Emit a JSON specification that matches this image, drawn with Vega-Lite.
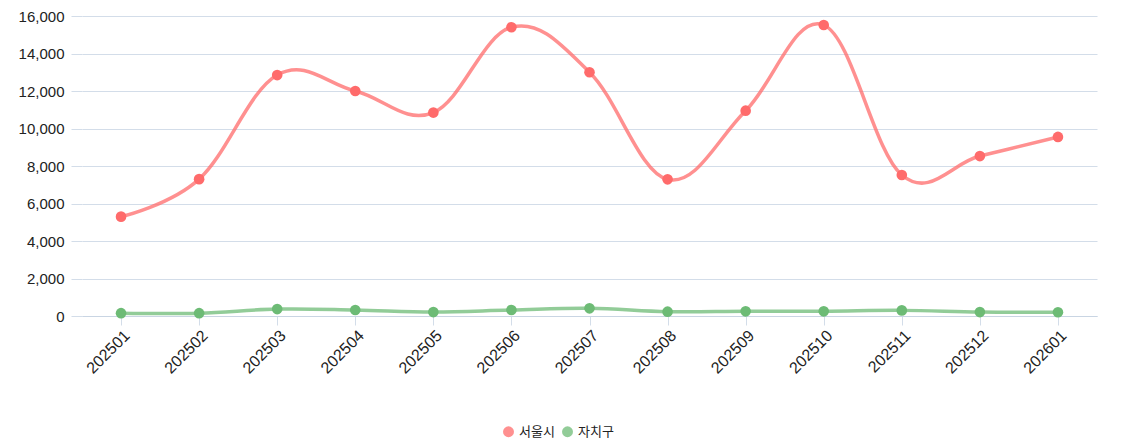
{
  "$schema": "https://vega.github.io/schema/vega-lite/v6.json",
  "width": 1015,
  "height": 300,
  "autosize": {"type": "none"},
  "padding": {"left": 82, "top": 16, "right": 24, "bottom": 125},
  "background": "white",
  "config": {
    "view": {"stroke": null},
    "font": "Liberation Sans",
    "axis": {
      "labelFont": "Liberation Sans",
      "labelFontSize": 14,
      "labelColor": "#222222",
      "gridColor": "#d3dde9",
      "tickColor": "#d3dde9",
      "domainColor": "#c9d5e3",
      "title": null
    }
  },
  "data": {
    "values": [
      {"month": "202501", "series": "서울시", "value": 5300},
      {"month": "202502", "series": "서울시", "value": 7300},
      {"month": "202503", "series": "서울시", "value": 12850},
      {"month": "202504", "series": "서울시", "value": 12000},
      {"month": "202505", "series": "서울시", "value": 10850},
      {"month": "202506", "series": "서울시", "value": 15400},
      {"month": "202507", "series": "서울시", "value": 13000},
      {"month": "202508", "series": "서울시", "value": 7290},
      {"month": "202509", "series": "서울시", "value": 10950},
      {"month": "202510", "series": "서울시", "value": 15520},
      {"month": "202511", "series": "서울시", "value": 7520},
      {"month": "202512", "series": "서울시", "value": 8530},
      {"month": "202601", "series": "서울시", "value": 9550},
      {"month": "202501", "series": "자치구", "value": 150},
      {"month": "202502", "series": "자치구", "value": 150},
      {"month": "202503", "series": "자치구", "value": 370},
      {"month": "202504", "series": "자치구", "value": 320},
      {"month": "202505", "series": "자치구", "value": 210},
      {"month": "202506", "series": "자치구", "value": 320},
      {"month": "202507", "series": "자치구", "value": 410},
      {"month": "202508", "series": "자치구", "value": 230},
      {"month": "202509", "series": "자치구", "value": 250},
      {"month": "202510", "series": "자치구", "value": 250},
      {"month": "202511", "series": "자치구", "value": 300},
      {"month": "202512", "series": "자치구", "value": 210},
      {"month": "202601", "series": "자치구", "value": 200}
    ]
  },
  "encoding": {
    "x": {
      "field": "month",
      "type": "ordinal",
      "scale": {"type": "point", "padding": 0.5},
      "axis": {
        "labelAngle": -45,
        "labelAlign": "right",
        "labelBaseline": "top",
        "labelFontSize": 16,
        "tickSize": 9,
        "labelPadding": 2,
        "grid": false,
        "domain": true
      }
    },
    "y": {
      "field": "value",
      "type": "quantitative",
      "scale": {"domain": [0, 16000], "nice": false},
      "axis": {
        "values": [0, 2000, 4000, 6000, 8000, 10000, 12000, 14000, 16000],
        "format": ",d",
        "labelFontSize": 15,
        "tickSize": 11,
        "labelPadding": 7,
        "domain": false,
        "grid": true
      }
    },
    "color": {
      "field": "series",
      "type": "nominal",
      "scale": {"domain": ["서울시", "자치구"], "range": ["#ff6b6b", "#6dbb75"]},
      "legend": {
        "title": null,
        "orient": "none",
        "direction": "horizontal",
        "legendX": 420,
        "legendY": 409,
        "symbolType": "circle",
        "symbolSize": 120,
        "symbolStrokeWidth": 0,
        "labelFont": "Noto Sans CJK KR",
        "labelFontSize": 13,
        "labelColor": "#222222",
        "columnPadding": 6,
        "labelOffset": 4
      }
    }
  },
  "layer": [
    {
      "mark": {"type": "line", "interpolate": "cardinal", "tension": -0.1, "strokeWidth": 3.5, "opacity": 0.75}
    },
    {
      "mark": {"type": "point", "shape": "circle", "filled": true, "opacity": 1, "size": 113}
    }
  ]
}
